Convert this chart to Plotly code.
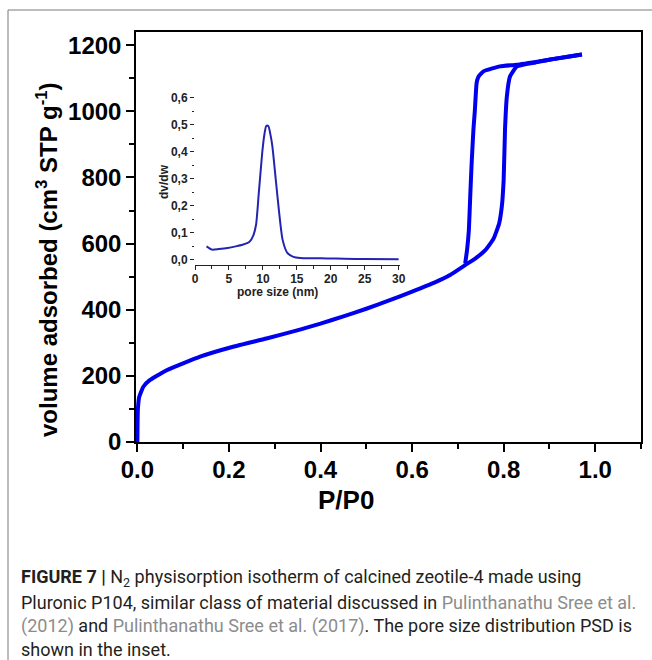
import plotly.graph_objects as go

# ---- main isotherm data (P/P0, volume adsorbed cm3 STP g-1) ----
ads_p = [0.0, 0.0004, 0.001, 0.004, 0.013, 0.027, 0.064, 0.137, 0.209, 0.282, 0.355,
         0.40, 0.45, 0.50, 0.55, 0.60, 0.65, 0.683, 0.716, 0.740, 0.760, 0.778, 0.790,
         0.796, 0.800, 0.803, 0.807, 0.814, 0.829, 0.870, 0.902, 0.940, 0.971]
ads_v = [0, 55, 96, 136, 167, 187, 217, 258, 288, 313, 340,
         358, 380, 403, 428, 455, 483, 505, 535, 557, 580, 615, 660,
         712, 793, 945, 1045, 1106, 1136, 1148, 1157, 1165, 1172]

des_p = [0.971, 0.902, 0.829, 0.792, 0.756, 0.745, 0.741, 0.737, 0.734, 0.730, 0.727,
         0.724, 0.720, 0.716]
des_v = [1172, 1157, 1141, 1136, 1121, 1105, 1086, 1000, 945, 840, 742,
         640, 580, 540]

# ---- inset PSD data ----
pore_nm = [1.7, 2.5, 3.5, 4.8, 6.0, 7.0, 8.0, 8.6, 9.0, 9.4, 9.9, 10.2, 10.5, 10.8,
           11.1, 11.4, 11.9, 12.4, 12.9, 13.6, 14.5, 15.5, 17.5, 19.5, 22, 25, 30]
dvdw = [0.049, 0.037, 0.039, 0.043, 0.049, 0.055, 0.065, 0.090, 0.130, 0.247, 0.395,
        0.460, 0.495, 0.495, 0.465, 0.420, 0.296, 0.173, 0.074, 0.025, 0.010, 0.006,
        0.005, 0.0045, 0.003, 0.002, 0.001]

inset_yticks = [0.0, 0.1, 0.2, 0.3, 0.4, 0.5, 0.6]
inset_ylabels = ["0,0", "0,1", "0,2", "0,3", "0,4", "0,5", "0,6"]
inset_yminor = [0.05, 0.15, 0.25, 0.35, 0.45, 0.55]

W, H = 652, 660
L, R, T, B = 136, 11, 32, 218
PW, PH = W - L - R, H - T - B


def px(x):
    return (x - L) / PW


def py(y):
    return (H - B - y) / PH


BLUE = "#0000ee"
fig = go.Figure()
fig.add_trace(go.Scatter(x=ads_p, y=ads_v, mode="lines",
                         line=dict(color=BLUE, width=4, shape="spline", smoothing=0.4),
                         showlegend=False))
fig.add_trace(go.Scatter(x=des_p, y=des_v, mode="lines",
                         line=dict(color=BLUE, width=4, shape="spline", smoothing=0.4),
                         showlegend=False))
fig.add_trace(go.Scatter(x=pore_nm, y=dvdw, mode="lines", xaxis="x2", yaxis="y2",
                         line=dict(color="#2424b0", width=2, shape="spline", smoothing=0.6),
                         showlegend=False))

FAM = "Liberation Sans, Arial"
tickfont = dict(family=FAM, size=24, color="black", weight="bold")
small = dict(family=FAM, size=12, color="#222", weight="bold")

fig.update_layout(
    width=W, height=H,
    margin=dict(l=L, r=R, t=T, b=B, autoexpand=False),
    paper_bgcolor="white", plot_bgcolor="white",
    xaxis=dict(range=[-0.003, 1.1], dtick=0.2, tick0=0, tickformat=".1f",
               ticks="outside", ticklen=8, tickwidth=1.5, linewidth=1.5,
               linecolor="black", tickcolor="black", mirror=True, automargin=False,
               showgrid=False, zeroline=False, tickfont=tickfont,
               ticklabelstandoff=-3,
               minor=dict(dtick=0.1, tick0=0, ticks="outside", ticklen=5,
                          tickwidth=1.5, tickcolor="black")),
    yaxis=dict(range=[0, 1240], dtick=200, tick0=0, automargin=False,
               ticks="outside", ticklen=8, tickwidth=1.5, linewidth=1.5,
               linecolor="black", tickcolor="black", mirror=True,
               showgrid=False, zeroline=False, tickfont=tickfont,
               minor=dict(dtick=100, tick0=0, ticks="outside", ticklen=5,
                          tickwidth=1.5, tickcolor="black")),
    xaxis2=dict(domain=[px(195), px(400)], anchor="y2", range=[0, 30.2], dtick=5,
                tick0=0, ticks="outside", ticklen=4, tickwidth=1, showline=True,
                linewidth=1.2, linecolor="#222", tickcolor="#222", showgrid=False,
                zeroline=False, tickfont=small, ticklabelstandoff=-2,
                minor=dict(dtick=2.5, tick0=0, ticks="outside", ticklen=3,
                           tickwidth=1, tickcolor="#222")),
    yaxis2=dict(domain=[py(265), py(95)], anchor="x2", range=[-0.02, 0.61],
                tickmode="array", tickvals=inset_yticks, ticktext=inset_ylabels,
                ticks="outside", ticklen=4, tickwidth=1, showline=False,
                tickcolor="#222", showgrid=False, zeroline=False, tickfont=small,
                minor=dict(tickmode="array", tickvals=inset_yminor, ticks="outside",
                           ticklen=2, tickwidth=1, tickcolor="#222")),
)

ann = []
ann.append(dict(x=px(47), y=py(260), xref="paper", yref="paper", textangle=-90,
                xanchor="center", yanchor="middle",
                text="volume adsorbed (cm<sup>3</sup> STP g<sup>-1</sup>)",
                showarrow=False, font=dict(family=FAM, size=24, color="black",
                                           weight="bold")))
ann.append(dict(x=px(346), y=py(500), xref="paper", yref="paper", text="P/P0",
                xanchor="center", yanchor="middle",
                showarrow=False, font=dict(family=FAM, size=26, color="black",
                                           weight="bold")))
ann.append(dict(x=px(164), y=py(182), xref="paper", yref="paper", textangle=-90,
                xanchor="center", yanchor="middle",
                text="dv/dw", showarrow=False, font=small))
ann.append(dict(x=px(277), y=py(292), xref="paper", yref="paper",
                xanchor="center", yanchor="middle",
                text="pore size (nm)", showarrow=False, font=small))

GRAY = "#8c8c8c"
cap_lines = [
    "<b>FIGURE 7 |</b> N<sub>2</sub> physisorption isotherm of calcined zeotile-4 made using",
    "Pluronic P104, similar class of material discussed in "
    f"<span style='color:{GRAY}'>Pulinthanathu Sree et al.</span>",
    f"<span style='color:{GRAY}'>(2012)</span> and "
    f"<span style='color:{GRAY}'>Pulinthanathu Sree et al. (2017)</span>. "
    "The pore size distribution PSD is",
    "shown in the inset.",
]
cap_y = [578, 602, 626, 649]
for txt, yy in zip(cap_lines, cap_y):
    ann.append(dict(x=px(19), y=py(yy), xref="paper", yref="paper", xanchor="left",
                    yanchor="middle", text=txt, showarrow=False, align="left",
                    font=dict(family="Roboto", size=18, color="#231f20")))
fig.update_layout(annotations=ann)

fig.add_shape(type="rect", xref="paper", yref="paper",
              x0=px(8), y0=py(10), x1=px(720), y1=py(720),
              line=dict(color="#7a7a7a", width=1), fillcolor="rgba(0,0,0,0)",
              layer="below")

fig.write_html("out.html", config={"displayModeBar": False},
               post_script="document.body.style.margin='0px';"
                           "document.body.style.padding='0px';")
